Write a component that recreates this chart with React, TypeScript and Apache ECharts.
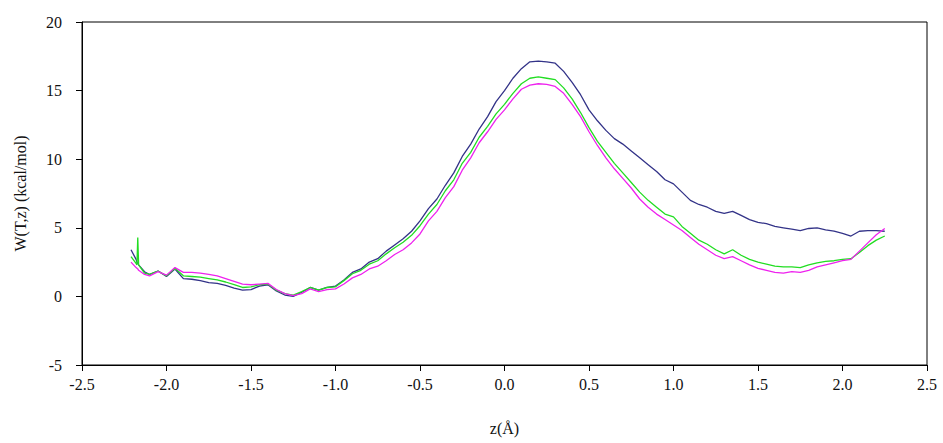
import React, { useEffect, useRef } from "react";
import * as echarts from "echarts";

const zValues = [
  -2.21, -2.18, -2.175, -2.17, -2.165, -2.13,
  -2.1, -2.05, -2.0, -1.95, -1.9, -1.85, -1.8, -1.75, -1.7, -1.65, -1.6, -1.55, -1.5, -1.45, -1.4,
  -1.35, -1.3, -1.25, -1.2, -1.15, -1.1, -1.05, -1.0, -0.95, -0.9, -0.85, -0.8, -0.75, -0.7, -0.65,
  -0.6, -0.55, -0.5, -0.45, -0.4, -0.35, -0.3, -0.25, -0.2, -0.15, -0.1, -0.05, 0.0, 0.05, 0.1,
  0.15, 0.2, 0.25, 0.3, 0.35, 0.4, 0.45, 0.5, 0.55, 0.6, 0.65, 0.7, 0.75, 0.8, 0.85, 0.9, 0.95,
  1.0, 1.05, 1.1, 1.15, 1.2, 1.25, 1.3, 1.35, 1.4, 1.45, 1.5, 1.55, 1.6, 1.65, 1.7, 1.75, 1.8,
  1.85, 1.9, 1.95, 2.0, 2.05, 2.1, 2.15, 2.2, 2.25,
];

const navySeries = [
  3.4, 2.7, 2.5, 2.4, 2.3, 1.8,
  1.6, 1.85, 1.45, 2.0, 1.3, 1.25, 1.15, 1.0, 0.95, 0.8, 0.6, 0.45, 0.5, 0.75, 0.85,
  0.4, 0.1, 0.0, 0.3, 0.65, 0.45, 0.65, 0.75, 1.2, 1.75, 2.0, 2.5, 2.75, 3.3, 3.75,
  4.2, 4.75, 5.5, 6.4, 7.1, 8.1, 9.0, 10.2, 11.1, 12.2, 13.1, 14.2, 15.0, 15.9, 16.6,
  17.1, 17.15, 17.1, 17.0, 16.4, 15.6, 14.7, 13.6, 12.8, 12.1, 11.5, 11.1, 10.6, 10.1, 9.6, 9.1, 8.5,
  8.2, 7.6, 7.0, 6.7, 6.5, 6.2, 6.05, 6.2, 5.9, 5.6, 5.4, 5.3, 5.1, 5.0, 4.9, 4.8, 4.95,
  5.0, 4.85, 4.75, 4.6, 4.4, 4.75, 4.8, 4.8, 4.75,
];

const greenSeries = [
  2.9, 2.4, 2.3, 4.3, 2.3, 1.7,
  1.6, 1.85, 1.5, 2.05, 1.5, 1.45, 1.4, 1.3, 1.2, 1.05, 0.85, 0.65, 0.7, 0.85, 0.9,
  0.45, 0.2, 0.1, 0.35, 0.65, 0.45, 0.65, 0.7, 1.15, 1.65, 1.9, 2.35, 2.6, 3.1, 3.55,
  3.95, 4.45, 5.15, 6.0, 6.7, 7.7, 8.5, 9.7, 10.5, 11.6, 12.4, 13.3, 14.0, 14.8, 15.5,
  15.9, 16.0, 15.9, 15.8, 15.2, 14.4, 13.4, 12.3, 11.3, 10.5, 9.7, 9.0, 8.3, 7.6, 7.0, 6.5, 6.0,
  5.8, 5.1, 4.6, 4.1, 3.8, 3.4, 3.1, 3.4, 3.0, 2.7, 2.5, 2.35, 2.2, 2.15, 2.15, 2.1, 2.3,
  2.45, 2.55, 2.6, 2.7, 2.75, 3.2, 3.7, 4.1, 4.4,
];

const magentaSeries = [
  2.5, 2.1, 2.05, 2.0, 1.9, 1.6,
  1.5, 1.8, 1.55, 2.1, 1.75, 1.75, 1.7, 1.6, 1.5, 1.3, 1.1, 0.9, 0.85, 0.9, 0.95,
  0.5, 0.2, 0.05, 0.2, 0.55, 0.35, 0.5, 0.55, 0.9, 1.35, 1.6, 2.0, 2.2, 2.6, 3.05,
  3.4, 3.9, 4.55, 5.5, 6.2, 7.2, 8.0, 9.2, 10.1, 11.2, 12.0, 12.9, 13.6, 14.4, 15.1,
  15.4, 15.5, 15.45, 15.3, 14.8, 14.0, 13.1, 12.0, 11.0, 10.1, 9.3, 8.6, 7.9, 7.1, 6.5, 6.0, 5.6,
  5.2, 4.8, 4.3, 3.8, 3.4, 3.0, 2.75, 2.9, 2.6, 2.3, 2.05, 1.9, 1.75, 1.7, 1.8, 1.75, 1.9,
  2.15, 2.3, 2.45, 2.6, 2.7, 3.3, 3.9, 4.5, 4.95,
];

const xTicks = { min: -2.5, max: 2.5, interval: 0.5 };
const yTicks = { min: -5, max: 20, interval: 5 };

const FONT = "Liberation Serif";

function pairs(ys: number[]) {
  return zValues.map((z, i) => [z, ys[i]]);
}

export default function App() {
  const ref = useRef<HTMLDivElement>(null);
  useEffect(() => {
    if (!ref.current) return;
    const chart = echarts.init(ref.current, undefined, { renderer: "svg" });
    const axisCommon = {
      axisLine: { show: true, onZero: false, lineStyle: { color: "#000", width: 1 } },
      axisTick: { show: true, length: 6, lineStyle: { color: "#000" } },
      splitLine: { show: false },
    };
    chart.setOption({
      animation: false,
      backgroundColor: "#fff",
      textStyle: { fontFamily: FONT },
      grid: {
        left: 82,
        right: 16,
        top: 22,
        bottom: 78,
        show: true,
        borderColor: "#000",
        borderWidth: 1,
        backgroundColor: "transparent",
      },
      xAxis: {
        type: "value",
        min: xTicks.min,
        max: xTicks.max,
        interval: xTicks.interval,
        ...axisCommon,
        axisLabel: {
          color: "#111",
          fontFamily: FONT,
          fontSize: 16,
          margin: 11,
          formatter: (v: number) => v.toFixed(1),
        },
        name: "z(Å)",
        nameLocation: "middle",
        nameGap: 55,
        nameTextStyle: { color: "#111", fontFamily: FONT, fontSize: 16 },
      },
      yAxis: {
        type: "value",
        min: yTicks.min,
        max: yTicks.max,
        interval: yTicks.interval,
        ...axisCommon,
        axisLabel: {
          color: "#111",
          fontFamily: FONT,
          fontSize: 16,
          margin: 20,
        },
        name: "W(T,z) (kcal/mol)",
        nameLocation: "middle",
        nameGap: 54,
        nameRotate: 90,
        nameTextStyle: { color: "#111", fontFamily: FONT, fontSize: 16 },
      },
      series: [
        {
          type: "line",
          data: pairs(navySeries),
          showSymbol: false,
          lineStyle: { color: "#333388", width: 1.3 },
          itemStyle: { color: "#333388" },
        },
        {
          type: "line",
          data: pairs(greenSeries),
          showSymbol: false,
          lineStyle: { color: "#22dd22", width: 1.3 },
          itemStyle: { color: "#22dd22" },
        },
        {
          type: "line",
          data: pairs(magentaSeries),
          showSymbol: false,
          lineStyle: { color: "#ee22ee", width: 1.3 },
          itemStyle: { color: "#ee22ee" },
        },
      ],
    });
    return () => chart.dispose();
  }, []);
  return <div ref={ref} style={{ width: 943, height: 443, position: "absolute", left: 0, top: 0 }} />;
}
